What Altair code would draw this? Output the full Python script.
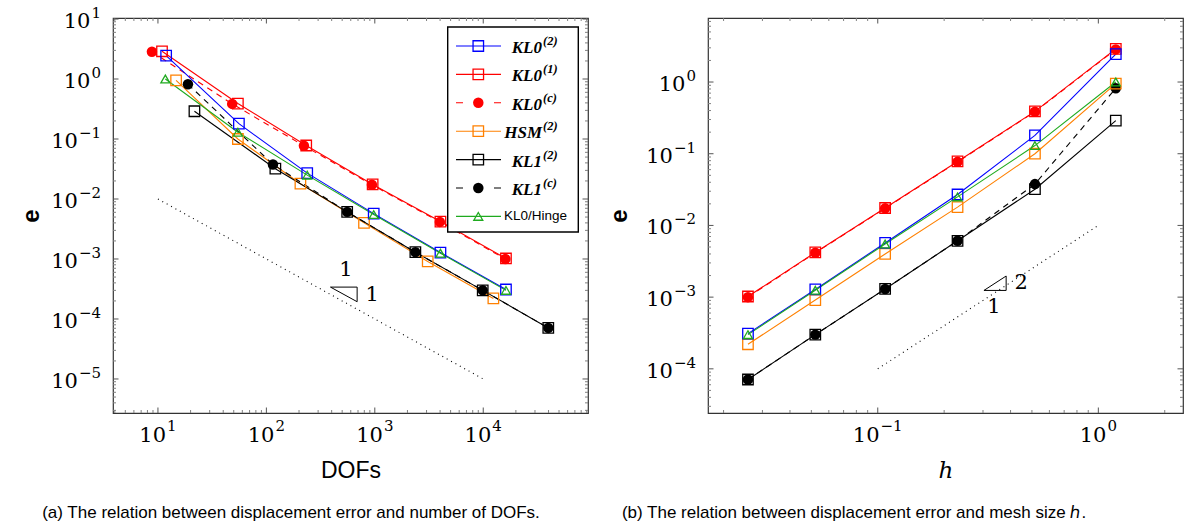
import math
import altair as alt
import pandas as pd

# ------------------------------------------------------------------ data
SERIES = ["KL0(2)", "KL0(1)", "KL0(c)", "HSM(2)", "KL1(2)", "KL1(c)", "KL0/Hinge"]
LEGEND_BASE = ["KL0", "KL0", "KL0", "HSM", "KL1", "KL1", "KL0/Hinge"]
LEGEND_SUP = ["(2)", "(1)", "(c)", "(2)", "(2)", "(c)", ""]

# mesh size h for the six refinement levels (coarse -> fine)
H_MESH = [1.2, 0.516, 0.230, 0.108, 0.0521, 0.0258]

DOFS_KL0_2 = [11.9, 55.8, 238, 977, 4030, 16200]
ERR_KL0_2 = [2.45, 0.18, 0.027, 5.7e-3, 1.28e-3, 3.1e-4]
DOFS_KL0_1 = [10.9, 54.6, 233, 955, 4030, 16200]
ERR_KL0_1 = [2.9, 0.39, 0.078, 0.0175, 4.2e-3, 1.02e-3]
DOFS_KL0_C = [8.8, 48.4, 222, 940, 3980, 16000]
ERR_KL0_C = [2.85, 0.385, 0.077, 0.0173, 4.15e-3, 1.0e-3]
DOFS_HSM_2 = [14.7, 54.6, 206, 795, 3076, 12400]
ERR_HSM_2 = [0.95, 0.1, 0.018, 4.0e-3, 9.1e-4, 2.2e-4]
DOFS_KL1_2 = [21.7, 121, 556, 2366, 9890, 39800]
ERR_KL1_2 = [0.29, 0.032, 6.1e-3, 1.3e-3, 3.0e-4, 7.1e-5]
DOFS_KL1_C = [18.9, 115, 556, 2366, 9890, 39800]
ERR_KL1_C = [0.82, 0.0377, 6.1e-3, 1.3e-3, 3.0e-4, 7.1e-5]
DOFS_HINGE = [11.7, 54.6, 238, 977, 4030, 16200]
ERR_HINGE = [1.0, 0.13, 0.025, 5.5e-3, 1.25e-3, 3.0e-4]

DOFS = [DOFS_KL0_2, DOFS_KL0_1, DOFS_KL0_C, DOFS_HSM_2, DOFS_KL1_2, DOFS_KL1_C, DOFS_HINGE]
ERRS = [ERR_KL0_2, ERR_KL0_1, ERR_KL0_C, ERR_HSM_2, ERR_KL1_2, ERR_KL1_C, ERR_HINGE]

# reference slope lines and triangles (data units)
REF_DOF_X = [10, 1e4]
REF_DOF_E = [1e-2, 1e-5]
TRI_DOF_X = [390, 687, 687, 390]
TRI_DOF_E = [3.4e-4, 3.4e-4, 1.94e-4, 3.4e-4]
TRI_DOF_TXT_X = [543, 944]
TRI_DOF_TXT_E = [6.6e-4, 2.5e-4]
TRI_DOF_TXT = ["1", "1"]

REF_H_X = [0.1, 1.0]
REF_H_E = [1e-4, 1e-2]
TRI_H_X = [0.303, 0.382, 0.382, 0.303]
TRI_H_E = [1.24e-3, 1.24e-3, 1.97e-3, 1.24e-3]
TRI_H_TXT_X = [0.336, 0.447]
TRI_H_TXT_E = [7.3e-4, 1.57e-3]
TRI_H_TXT = ["1", "2"]

# ------------------------------------------------------------------ styles
STYLE = {
    "KL0(2)": dict(color="#0000ff", shape="square", filled=False, dash=None),
    "KL0(1)": dict(color="#ff0000", shape="square", filled=False, dash=None),
    "KL0(c)": dict(color="#ff0000", shape="circle", filled=True, dash=[6, 5]),
    "HSM(2)": dict(color="#ff8000", shape="square", filled=False, dash=None),
    "KL1(2)": dict(color="#000000", shape="square", filled=False, dash=None),
    "KL1(c)": dict(color="#000000", shape="circle", filled=True, dash=[6, 5]),
    "KL0/Hinge": dict(color="#1faa1f", shape="triangle-up", filled=False, dash=None),
}
SIZE = {"square": 110, "circle": 110, "triangle-up": 80}
DRAW_ORDER = ["KL0(1)", "KL0(c)", "HSM(2)", "KL1(2)", "KL1(c)", "KL0(2)", "KL0/Hinge"]

rows = []
for name, dofs, errs in zip(SERIES, DOFS, ERRS):
    for i, (d, e) in enumerate(zip(dofs, errs)):
        rows.append({"series": name, "dofs": d, "h": H_MESH[i], "e": e})
df = pd.DataFrame(rows)

W, H = 475, 395
SERIF = "DejaVu Serif"
SANS = "Liberation Sans"
TICK_MAJ, TICK_MIN = "#555555", "#808080"

BASE_FS, EXP_FS = 21, 15
W10 = 2 * 0.636 * BASE_FS          # width of "10"
DIG_W = 0.636 * EXP_FS             # exponent digit width
MINUS_W = 0.838 * EXP_FS           # exponent minus width


def exp_width(p):
    return len(str(abs(p))) * DIG_W + (MINUS_W if p < 0 else 0)


def log_ticks(lo, hi):
    majors, minors = [], []
    for p in range(-8, 8):
        for m in range(1, 10):
            v = m * 10.0 ** p
            if lo * 0.9999 <= v <= hi * 1.0001:
                (majors if m == 1 else minors).append(v)
    return majors, minors


one = pd.DataFrame({"k": [0]})


def make_panel(xfield, xdom, ydom, xtitle, xtitle_font, xtitle_style, ytitle_x,
               ref_x, ref_e, tri_x, tri_e, txt_x, txt_e, txt, caption, caption_x,
               legend, bound_rule):
    xmaj, xmin = log_ticks(*xdom)
    ymaj, ymin = log_ticks(*ydom)
    xs = alt.Scale(type="log", domain=xdom, nice=False)
    ys = alt.Scale(type="log", domain=ydom, nice=False)
    xaxis = alt.Axis(values=xmaj, labels=False, title=xtitle,
                     ticks=False, domain=False, grid=False,
                     titleFont=xtitle_font, titleFontSize=23, titleFontWeight="normal",
                     titleFontStyle=xtitle_style, titleColor="black",
                     titleY=57, titleBaseline="middle")
    yaxis = alt.Axis(values=ymaj, labels=False, title="e",
                     ticks=False, domain=False, grid=False,
                     titleFont=SANS, titleFontSize=24, titleFontWeight="bold",
                     titleColor="black", titleX=ytitle_x, titleY=H / 2,
                     titleBaseline="middle", titleAngle=-90)

    def X(f=xfield):
        return alt.X(f"{f}:Q", scale=xs, axis=xaxis)

    def Y():
        return alt.Y("e:Q", scale=ys, axis=yaxis)

    layers = []
    # inner ticks on all four sides
    for vals, ln, col in [(xmaj, 5.5, TICK_MAJ), (xmin, 3, TICK_MIN)]:
        d = pd.DataFrame({xfield: vals})
        layers.append(alt.Chart(d).mark_rule(color=col, strokeWidth=1).encode(
            x=X(), y=alt.value(H), y2=alt.value(H - ln)))
        layers.append(alt.Chart(d).mark_rule(color=col, strokeWidth=1).encode(
            x=X(), y=alt.value(0), y2=alt.value(ln)))
    for vals, ln, col in [(ymaj, 5.5, TICK_MAJ), (ymin, 3, TICK_MIN)]:
        d = pd.DataFrame({"e": vals})
        layers.append(alt.Chart(d).mark_rule(color=col, strokeWidth=1).encode(
            y=Y(), x=alt.value(0), x2=alt.value(ln)))
        layers.append(alt.Chart(d).mark_rule(color=col, strokeWidth=1).encode(
            y=Y(), x=alt.value(W), x2=alt.value(W - ln)))

    # tick labels 10^p drawn as base + raised exponent
    base_kw = dict(font=SERIF, fontSize=BASE_FS, color="black", baseline="middle")
    exp_kw = dict(font=SERIF, fontSize=EXP_FS, color="black", baseline="middle")
    # x labels: whole label centred on tick
    for v in xmaj:
        p = round(math.log10(v))
        ex = str(p).replace("-", "−")
        total = W10 + exp_width(p) + 1
        d = pd.DataFrame({xfield: [v], "b": ["10"], "x": [ex]})
        layers.append(alt.Chart(d).mark_text(align="left", dx=-total / 2, **base_kw).encode(
            x=X(), y=alt.value(H + 22.5), text="b:N"))
        layers.append(alt.Chart(d).mark_text(align="left", dx=-total / 2 + W10 + 1, **exp_kw).encode(
            x=X(), y=alt.value(H + 13), text="x:N"))
    # y labels: right aligned
    for v in ymaj:
        p = round(math.log10(v))
        ex = str(p).replace("-", "−")
        d = pd.DataFrame({"e": [v], "b": ["10"], "x": [ex]})
        layers.append(alt.Chart(d).mark_text(align="right", dy=3, **base_kw).encode(
            y=Y(), x=alt.value(-12 - exp_width(p) - 1), text="b:N"))
        layers.append(alt.Chart(d).mark_text(align="right", dy=-6, **exp_kw).encode(
            y=Y(), x=alt.value(-12), text="x:N"))

    # reference slope line + triangle
    ref = pd.DataFrame({xfield: ref_x, "e": ref_e})
    layers.append(alt.Chart(ref).mark_line(color="black", strokeWidth=1.1,
                                           strokeDash=[1, 4]).encode(x=X(), y=Y()))
    tri = pd.DataFrame({xfield: tri_x, "e": tri_e, "k": list(range(len(tri_x)))})
    layers.append(alt.Chart(tri).mark_line(color="black", strokeWidth=1).encode(
        x=X(), y=Y(), order="k:Q"))
    tt = pd.DataFrame({xfield: txt_x, "e": txt_e, "t": txt})
    layers.append(alt.Chart(tt).mark_text(font=SERIF, fontSize=21, color="black",
                                          align="center", baseline="middle").encode(
        x=X(), y=Y(), text="t:N"))

    # series lines
    for name in DRAW_ORDER:
        st = STYLE[name]
        kw = dict(color=st["color"], strokeWidth=1.1)
        if st["dash"]:
            kw["strokeDash"] = st["dash"]
        layers.append(alt.Chart(df).transform_filter(alt.datum.series == name)
                      .mark_line(**kw).encode(x=X(), y=Y()))
    # markers: filled ones first
    for name in [n for n in DRAW_ORDER if STYLE[n]["filled"]] + \
                [n for n in DRAW_ORDER if not STYLE[n]["filled"]]:
        st = STYLE[name]
        layers.append(alt.Chart(df).transform_filter(alt.datum.series == name)
                      .mark_point(shape=st["shape"], filled=st["filled"],
                                  color=st["color"], size=SIZE[st["shape"]],
                                  strokeWidth=1.3, opacity=1)
                      .encode(x=X(), y=Y()))

    if legend:
        LX0, LX1, LY0, LY1 = 334.7, 465.3, 9, 214
        layers.append(alt.Chart(one).mark_rect(fill="white", stroke="black",
                                               strokeWidth=1.4).encode(
            x=alt.value(LX0), x2=alt.value(LX1), y=alt.value(LY0), y2=alt.value(LY1)))
        for i, name in enumerate(SERIES):
            st = STYLE[name]
            yy = 28 + 28.4 * i
            kw = dict(color=st["color"], strokeWidth=1.1)
            if st["dash"]:
                kw["strokeDash"] = [7, 12]
            layers.append(alt.Chart(one).mark_rule(**kw).encode(
                x=alt.value(343), x2=alt.value(388), y=alt.value(yy)))
            layers.append(alt.Chart(one).mark_point(
                shape=st["shape"], filled=st["filled"], color=st["color"],
                size=SIZE[st["shape"]], strokeWidth=1.3, opacity=1).encode(
                x=alt.value(365.3), y=alt.value(yy)))
            base, sup = LEGEND_BASE[i], LEGEND_SUP[i]
            if not sup:
                layers.append(alt.Chart(one).mark_text(
                    align="center", baseline="middle", color="black",
                    font=SANS, fontSize=13.5).encode(
                    x=alt.value(422.5), y=alt.value(yy), text=alt.value(base)))
            else:
                layers.append(alt.Chart(one).mark_text(
                    align="right", baseline="middle", color="black", font="Liberation Serif",
                    fontSize=17, fontStyle="italic", fontWeight="bold", dy=2).encode(
                    x=alt.value(429), y=alt.value(yy), text=alt.value(base)))
                layers.append(alt.Chart(one).mark_text(
                    align="left", baseline="middle", color="black", font="Liberation Serif",
                    fontSize=12.5, fontStyle="italic", fontWeight="bold", dy=-5).encode(
                    x=alt.value(430), y=alt.value(yy), text=alt.value(sup)))

    # caption
    layers.append(alt.Chart(one).mark_text(font=SANS, fontSize=17, color="black",
                                           align="center", baseline="middle").encode(
        x=alt.value(caption_x), y=alt.value(495), text=alt.value(caption)))

    if bound_rule:
        layers.append(alt.Chart(one).mark_rule(strokeOpacity=0).encode(
            x=alt.value(-107), y=alt.value(-11), y2=alt.value(505)))

    return alt.layer(*layers).properties(width=W, height=H)


left = make_panel(
    "dofs", [3.85, 92500], [10 ** -5.567, 10 ** 1.017], "DOFs", SANS, "normal", -82,
    REF_DOF_X, REF_DOF_E, TRI_DOF_X, TRI_DOF_E, TRI_DOF_TXT_X, TRI_DOF_TXT_E, TRI_DOF_TXT,
    "(a) The relation between displacement error and number of DOFs.", 178,
    legend=True, bound_rule=True)

right = make_panel(
    "h", [0.017, 2.42], [10 ** -4.616, 10 ** 0.893], "h", SERIF, "italic", -89,
    REF_H_X, REF_H_E, TRI_H_X, TRI_H_E, TRI_H_TXT_X, TRI_H_TXT_E, TRI_H_TXT,
    "(b) The relation between displacement error and mesh size ℎ.", 146,
    legend=False, bound_rule=False)

chart = alt.hconcat(left, right, spacing=120, bounds="flush").properties(
    padding={"left": 5, "top": 5, "right": 2, "bottom": 5},
    background="white",
).configure_view(stroke="#333333", strokeWidth=1.2)

chart.save("out.html", embed_options={"renderer": "svg", "actions": False})
